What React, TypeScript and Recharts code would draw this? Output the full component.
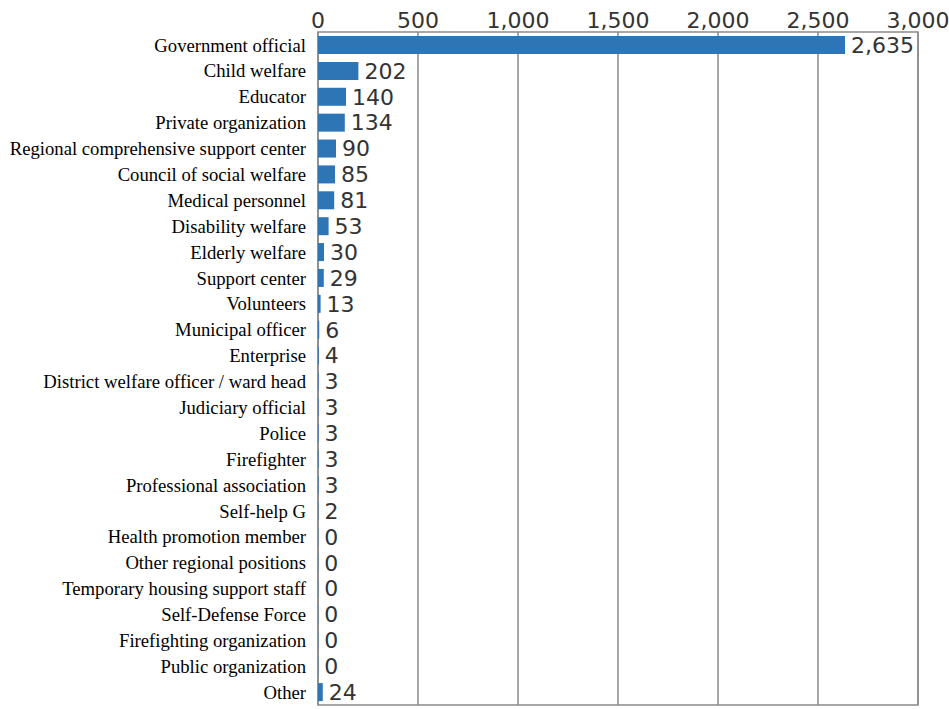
import React from "react";
import { Bar, BarChart, CartesianGrid, LabelList, ReferenceArea, XAxis, YAxis } from "recharts";

const categories = [
  "Government official",
  "Child welfare",
  "Educator",
  "Private organization",
  "Regional comprehensive support center",
  "Council of social welfare",
  "Medical personnel",
  "Disability welfare",
  "Elderly welfare",
  "Support center",
  "Volunteers",
  "Municipal officer",
  "Enterprise",
  "District welfare officer / ward head",
  "Judiciary official",
  "Police",
  "Firefighter",
  "Professional association",
  "Self-help G",
  "Health promotion member",
  "Other regional positions",
  "Temporary housing support staff",
  "Self-Defense Force",
  "Firefighting organization",
  "Public organization",
  "Other",
];

const counts = [
  2635, 202, 140, 134, 90, 85, 81, 53, 30, 29, 13, 6, 4, 3, 3, 3, 3, 3, 2, 0, 0,
  0, 0, 0, 0, 24,
];

const xTicks = [0, 500, 1000, 1500, 2000, 2500, 3000];

const chartData = categories.map((name, i) => ({ name, value: counts[i] }));

const sans = "'DejaVu Sans', Verdana, sans-serif";
const frame = "#8a8a8a";

const App: React.FC = () => {
  return (
    <div style={{ position: "absolute", left: 0, top: 0, width: 949, height: 709, background: "#fff" }}>
      <BarChart
        width={949}
        height={709}
        data={chartData}
        layout="vertical"
        margin={{ top: 0, right: 31, bottom: 4, left: 0 }}
        barSize={18}
      >
        <CartesianGrid horizontal={false} stroke={frame} strokeWidth={1.5} />
        {/* box round the plot area */}
        <ReferenceArea
          x1={0}
          x2={3000}
          fill="none"
          fillOpacity={0}
          stroke={frame}
          strokeWidth={1.5}
          ifOverflow="visible"
        />
        <XAxis
          type="number"
          orientation="top"
          domain={[0, 3000]}
          ticks={xTicks}
          height={32}
          tickLine={false}
          tickSize={0}
          tickMargin={4}
          axisLine={false}
          tick={{ fill: "#333", fontSize: 22, fontFamily: sans }}
          tickFormatter={(v: number) => v.toLocaleString("en-US")}
          interval={0}
        />
        <YAxis
          type="category"
          dataKey="name"
          width={318}
          interval={0}
          tickLine={false}
          axisLine={false}
          tickSize={0}
          tickMargin={12}
          tick={{ fill: "#000", fontSize: 18.7, fontFamily: "'Liberation Serif', 'Times New Roman', serif" }}
        />
        <Bar dataKey="value" fill="#2e75b6" minPointSize={0.3} isAnimationActive={false}>
          <LabelList
            dataKey="value"
            position="right"
            offset={6}
            fill="#333"
            fontSize={22}
            fontFamily={sans}
            formatter={(v: any) => Number(v).toLocaleString("en-US")}
          />
        </Bar>
      </BarChart>
    </div>
  );
};

export default App;
